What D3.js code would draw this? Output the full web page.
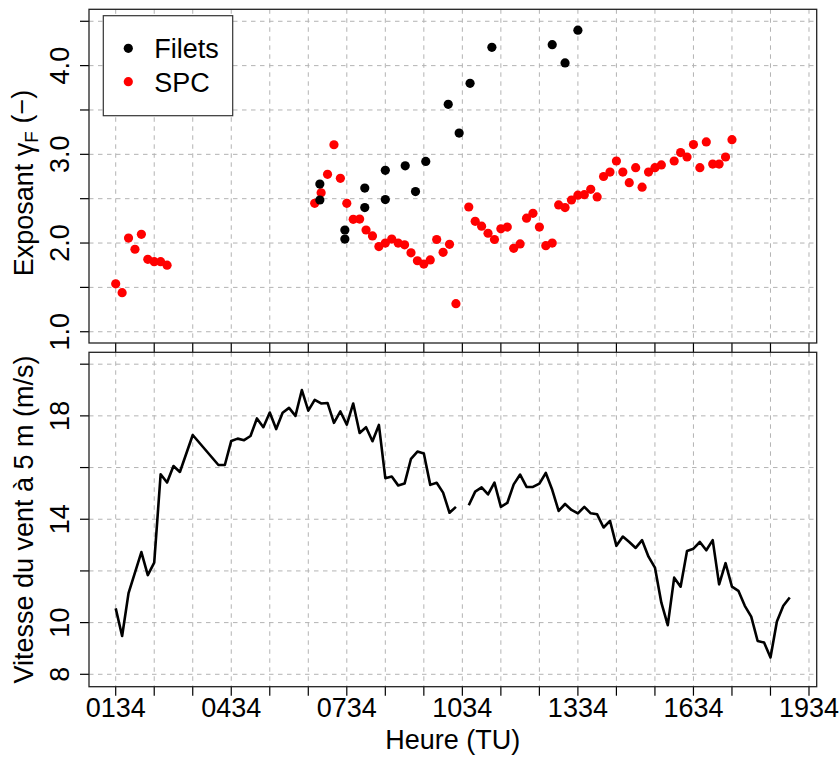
<!DOCTYPE html>
<html>
<head>
<meta charset="utf-8">
<script src="https://cdn.jsdelivr.net/npm/d3@7"></script>
<style>
  body { margin: 0; background: #fff; }
  text { font-family: "Liberation Sans", Arial, sans-serif; fill: #000; }
</style>
</head>
<body>
<script>
// ----- DATA -----
// heure TU "HHMM"
const hourTicks = ["0134","0234","0334","0434","0534","0634","0734","0834","0934","1034",
  "1134","1234","1334","1434","1534","1634","1734","1834","1934"];
const hourLabels = ["0134","0434","0734","1034","1334","1634","1934"];

const gammaTicks = [1.0, 1.5, 2.0, 2.5, 3.0, 3.5, 4.0, 4.5];
const gammaLabels = [1.0, 2.0, 3.0, 4.0];
const windTicks = [8, 10, 12, 14, 16, 18, 20];
const windLabels = [8, 10, 14, 18];

const filetsTimes = ["0652","0652","0731","0731","0802","0802","0834","0834","0905","0921",
  "0937","1012","1029","1046","1120","1254","1314","1334"];
const filetsGamma = [2.665,2.485,2.147,2.045,2.62,2.40,2.82,2.49,2.87,2.58,
  2.92,3.564,3.24,3.80,4.206,4.236,4.03,4.40];

const spcTimes = ["0134","0144","0154","0204","0214","0224","0234","0244","0254",
  "0644","0654","0704","0714","0724","0734","0744","0754","0804","0814","0824","0834","0844",
  "0854","0904","0914","0924","0934","0944","0954","1004","1014","1024",
  "1044","1054","1104","1114","1124","1134","1144","1154","1204","1214","1224","1234","1244",
  "1254","1304","1314","1324","1334","1344","1354","1404","1414","1424","1434","1444","1454",
  "1504","1514","1524","1534","1544",
  "1604","1614","1624","1634","1644","1654","1704","1714","1724","1734"];
const spcGamma = [1.54,1.44,2.056,1.93,2.098,1.816,1.79,1.79,1.75,
  2.448,2.567,2.775,3.108,2.73,2.448,2.267,2.27,2.147,2.08,1.96,2.0,2.045,
  2.0,1.98,1.89,1.80,1.763,1.81,2.04,1.895,1.985,1.316,
  2.406,2.245,2.19,2.11,2.04,2.16,2.18,1.94,1.99,2.28,2.335,2.18,1.97,
  2.0,2.43,2.40,2.485,2.54,2.545,2.605,2.52,2.75,2.80,2.925,2.80,2.68,
  2.85,2.63,2.80,2.85,2.88,
  2.925,3.02,2.97,3.11,2.85,3.14,2.89,2.89,2.97,3.165];

const windTimes = ["0134","0144","0154","0214","0224","0234","0244","0254","0304","0314",
  "0334","0414","0424","0434","0444","0454","0504","0514","0524","0534","0544","0554",
  "0604","0614","0624","0634","0644","0654","0704","0714","0724","0734","0744","0754",
  "0804","0814","0824","0834","0844","0854","0904","0914","0924","0934","0944","0954",
  "1004","1014","1024","1034","1044","1054","1104","1114","1124","1134","1144","1154",
  "1204","1214","1224","1234","1244","1254","1304","1314","1324","1334","1344","1354",
  "1404","1414","1424","1434","1444","1454","1504","1514","1524","1534","1544","1554",
  "1604","1614","1624","1634","1644","1654","1704","1714","1724","1734","1744","1754",
  "1804","1814","1824","1834","1844","1854","1904"];
const windSpeed = [10.55,9.48,11.14,12.73,11.84,12.32,15.74,15.42,16.06,15.83,
  17.26,16.1,16.1,17.03,17.12,17.06,17.22,17.9,17.56,18.13,17.49,18.12,
  18.31,18.0,19.0,18.2,18.62,18.48,18.5,17.73,18.17,17.66,18.48,17.34,
  17.56,17.02,17.65,15.59,15.65,15.31,15.38,16.34,16.62,16.54,15.33,15.41,
  15.03,14.25,14.48,null,14.54,15.07,15.23,14.96,15.42,14.48,14.63,15.35,
  15.73,15.25,15.25,15.38,15.79,15.14,14.32,14.59,14.36,14.23,14.48,14.23,
  14.19,13.68,13.94,12.97,13.33,13.12,12.89,13.19,12.55,12.13,10.77,9.9,
  11.74,11.39,12.77,12.86,13.12,12.8,13.19,11.48,12.3,11.39,11.23,10.65,
  10.23,9.29,9.23,8.65,10.04,10.65,10.97];

// ----- LAYOUT -----
const w = 840, h = 758;
const left = 89, right = 816.7;
const top1 = 9.3, bot1 = 343;
const top2 = 352.3, bot2 = 686.7;
const tickLen = 9;
const fontSize = 27;

const toMin = s => +s.slice(0, 2) * 60 + +s.slice(2);

const x = d3.scaleLinear().domain([52.4, 1186]).range([left, right]);
const yGamma = d3.scaleLinear().domain([0.873, 4.635]).range([bot1, top1]);
const yWind = d3.scaleLinear().domain([7.52, 20.46]).range([bot2, top2]);

const svg = d3.select("body").append("svg")
  .attr("width", w).attr("height", h);

function panel(yScale, top, bot, yTicks, yLabels, yFmt, showX) {
  const g = svg.append("g");
  // grid
  g.selectAll(".hg").data(yTicks).enter().append("line")
    .attr("x1", left).attr("x2", right)
    .attr("y1", d => yScale(d)).attr("y2", d => yScale(d))
    .attr("stroke", "#b3b3b3").attr("stroke-width", 1).attr("stroke-dasharray", "4.5,4.5");
  g.selectAll(".vg").data(hourTicks).enter().append("line")
    .attr("x1", d => x(toMin(d))).attr("x2", d => x(toMin(d)))
    .attr("y1", top).attr("y2", bot)
    .attr("stroke", "#b3b3b3").attr("stroke-width", 1).attr("stroke-dasharray", "4.5,4.5");
  // y ticks
  g.selectAll(".yt").data(yTicks).enter().append("line")
    .attr("x1", left - tickLen).attr("x2", left)
    .attr("y1", d => yScale(d)).attr("y2", d => yScale(d))
    .attr("stroke", "#000").attr("stroke-width", 1.2);
  g.selectAll(".yl").data(yLabels).enter().append("text")
    .attr("transform", d => "translate(" + (left - 20) + "," + yScale(d) + ") rotate(-90)")
    .attr("text-anchor", "middle")
    .style("font-size", fontSize + "px")
    .text(yFmt);
  // x ticks
  g.selectAll(".xt").data(hourTicks).enter().append("line")
    .attr("x1", d => x(toMin(d))).attr("x2", d => x(toMin(d)))
    .attr("y1", bot).attr("y2", bot + tickLen)
    .attr("stroke", "#000").attr("stroke-width", 1.2);
  if (showX) {
    g.selectAll(".xl").data(hourLabels).enter().append("text")
      .attr("x", d => x(toMin(d))).attr("y", bot + 30.5)
      .attr("text-anchor", "middle")
      .style("font-size", fontSize + "px")
      .text(d => d);
  }
  return g;
}

// ----- TOP PANEL : exposant -----
const g1 = panel(yGamma, top1, bot1, gammaTicks, gammaLabels, d => d.toFixed(1), false);

g1.selectAll(".spc").data(spcTimes.map((t, i) => ({ t: t, v: spcGamma[i] })))
  .enter().append("circle")
  .attr("cx", d => x(toMin(d.t))).attr("cy", d => yGamma(d.v))
  .attr("r", 4.6).attr("fill", "#ff0000");

g1.selectAll(".fil").data(filetsTimes.map((t, i) => ({ t: t, v: filetsGamma[i] })))
  .enter().append("circle")
  .attr("cx", d => x(toMin(d.t))).attr("cy", d => yGamma(d.v))
  .attr("r", 4.6).attr("fill", "#000");

// legend
const legend = svg.append("g").attr("id", "legend");
legend.append("rect")
  .attr("x", 103.3).attr("y", 15.7).attr("width", 129.4).attr("height", 100)
  .attr("fill", "#fff").attr("stroke", "#333").attr("stroke-width", 1.2);
[["Filets", "#000", 48.3], ["SPC", "#ff0000", 81.7]].forEach(it => {
  legend.append("circle").attr("cx", 128.3).attr("cy", it[2]).attr("r", 4.6).attr("fill", it[1]);
  legend.append("text").attr("x", 154.3).attr("y", it[2] + 10)
    .style("font-size", fontSize + "px").text(it[0]);
});

// y title top
const t1 = svg.append("text")
  .attr("transform", "translate(33," + 183 + ") rotate(-90)")
  .attr("text-anchor", "middle")
  .style("font-size", fontSize + "px");
t1.append("tspan").text("Exposant \u03B3");
t1.append("tspan").attr("dy", "0.28em").style("font-size", "19px").text("F");
t1.append("tspan").attr("dy", "-0.28em").text(" (\u2212)");

// ----- BOTTOM PANEL : vent -----
const g2 = panel(yWind, top2, bot2, windTicks, windLabels, d => d, true);

const line = d3.line()
  .defined(d => d.v != null)
  .x(d => x(toMin(d.t)))
  .y(d => yWind(d.v));

g2.append("path")
  .datum(windTimes.map((t, i) => ({ t: t, v: windSpeed[i] })))
  .attr("d", line)
  .attr("fill", "none").attr("stroke", "#000")
  .attr("stroke-width", 2.6).attr("stroke-linejoin", "round");

svg.append("text")
  .attr("transform", "translate(33," + (top2 + bot2) / 2 + ") rotate(-90)")
  .attr("text-anchor", "middle")
  .style("font-size", fontSize + "px")
  .text("Vitesse du vent \u00E0 5 m (m/s)");

svg.append("text")
  .attr("x", (left + right) / 2).attr("y", 749)
  .attr("text-anchor", "middle")
  .style("font-size", fontSize + "px")
  .text("Heure (TU)");

// boxes
[[top1, bot1], [top2, bot2]].forEach(p => {
  svg.append("rect")
    .attr("x", left).attr("y", p[0]).attr("width", right - left).attr("height", p[1] - p[0])
    .attr("fill", "none").attr("stroke", "#222").attr("stroke-width", 1.3);
});
</script>
</body>
</html>
